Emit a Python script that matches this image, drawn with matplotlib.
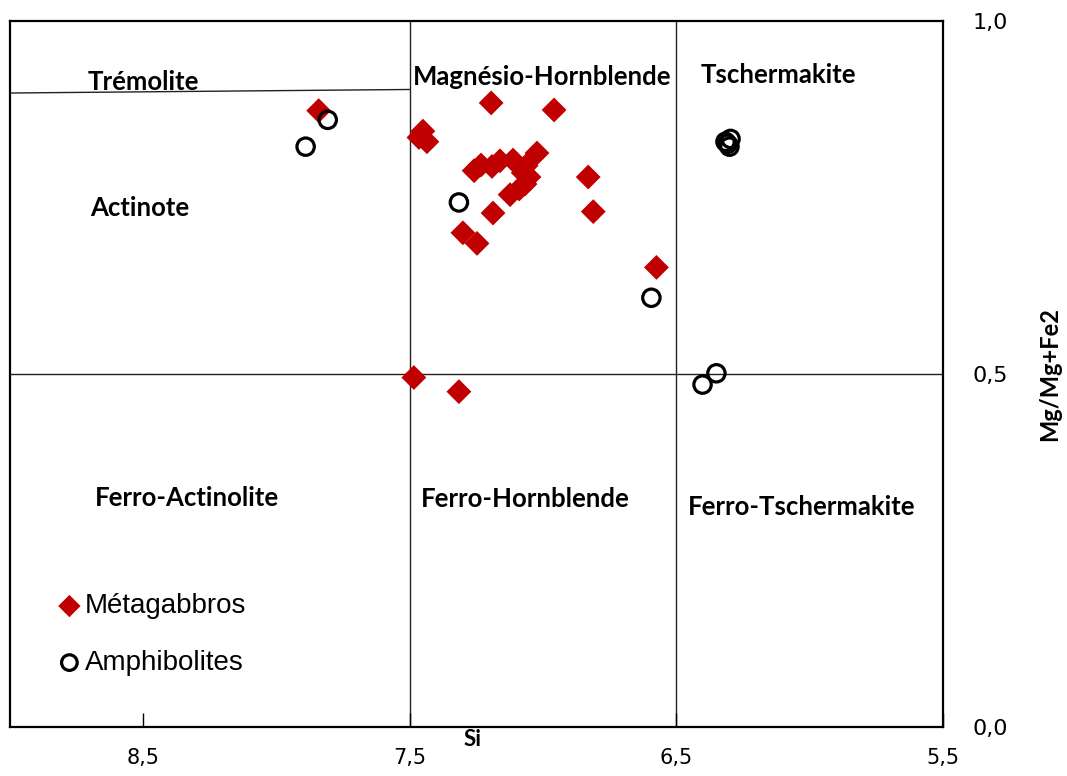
import matplotlib
matplotlib.use("Agg")
import matplotlib.pyplot as plt
from matplotlib.ticker import FixedLocator, FuncFormatter

# ---- data ----
meta_si = [7.842, 7.195, 6.959, 7.451, 7.466, 7.436, 7.023, 7.259, 7.233, 7.192,
           7.162, 7.113, 7.064, 7.075, 7.053, 7.068, 7.090, 7.124, 7.188, 7.301,
           7.248, 6.831, 6.812, 6.575, 7.485, 7.316]
meta_mg = [0.873, 0.884, 0.874, 0.844, 0.835, 0.829, 0.813, 0.788, 0.796, 0.794,
           0.802, 0.803, 0.795, 0.785, 0.779, 0.769, 0.762, 0.754, 0.728, 0.700,
           0.685, 0.779, 0.730, 0.651, 0.495, 0.475]
amph_si = [7.808, 7.891, 7.316, 6.594, 6.316, 6.297, 6.301, 6.308, 6.350, 6.402]
amph_mg = [0.860, 0.822, 0.743, 0.608, 0.829, 0.833, 0.822, 0.826, 0.501, 0.485]

x_ticks = [8.5, 7.5, 6.5, 5.5]
y_ticks = [0.0, 0.5, 1.0]

field_names = ["Trémolite", "Magnésio-Hornblende", "Tschermakite", "Actinote",
               "Ferro-Actinolite", "Ferro-Hornblende", "Ferro-Tschermakite"]
field_si = [8.50, 7.004, 6.117, 8.515, 8.338, 7.068, 6.030]
field_mg = [0.913, 0.920, 0.924, 0.735, 0.324, 0.323, 0.312]

# ---- figure ----
fig = plt.figure(figsize=(10.67, 7.76), dpi=100)
ax = fig.add_axes([10/1067, 49/776, 933/1067, 706/776])
ax.set_xlim(9.0, 5.5)
ax.set_ylim(0.0, 1.0)

# field boundaries
ax.axvline(7.5, color="#222222", lw=1.0, zorder=1)
ax.axvline(6.5, color="#222222", lw=1.0, zorder=1)
ax.axhline(0.5, color="#222222", lw=1.0, zorder=1)
ax.plot([9.0, 7.5], [0.898, 0.903], color="#222222", lw=1.0, zorder=1)

lato = ["Lato", "DejaVu Sans"]
for name, xs, ys in zip(field_names, field_si, field_mg):
    ax.text(xs, ys, name, ha="center", va="center", fontsize=18.5,
            fontweight="bold", family=lato, zorder=2)

s_meta = ax.scatter(meta_si, meta_mg, marker="D", s=160,
                    color="#C00000", edgecolors="none", zorder=4,
                    label="Métagabbros")
s_amph = ax.scatter(amph_si, amph_mg, marker="o", s=12.5**2,
                    facecolors="none", edgecolors="black", linewidths=2.3,
                    zorder=5, label="Amphibolites")

# spines
for sp in ax.spines.values():
    sp.set_linewidth(1.6)
    sp.set_color("black")

fmt = FuncFormatter(lambda v, p: f"{v:.1f}".replace(".", ","))
ax.xaxis.set_major_locator(FixedLocator(x_ticks))
ax.xaxis.set_major_formatter(fmt)
ax.yaxis.set_major_locator(FixedLocator(y_ticks))
ax.yaxis.set_major_formatter(fmt)
ax.tick_params(axis="x", direction="in", length=10, width=1, pad=15,
               labelsize=15)
ax.yaxis.tick_right()
ax.tick_params(axis="y", length=0, pad=21, labelsize=16)

fig.text(473/1067, 1 - 740/776, "Si", ha="center", va="center",
         fontsize=16, fontweight="bold", family=lato)
fig.text(1050/1067, 1 - 374/776, "Mg/Mg+Fe2", ha="center", va="center",
         rotation=90, fontsize=17, fontweight="bold", family=lato)

leg = ax.legend(handles=[s_meta, s_amph], loc="lower left",
                bbox_to_anchor=(33/933, 40/706), frameon=False,
                prop={"family": ["Liberation Sans"], "size": 20},
                handletextpad=0.0, labelspacing=1.1, handlelength=1.1,
                borderaxespad=0, markerscale=0.9)

fig.savefig("out.png", dpi=100)
